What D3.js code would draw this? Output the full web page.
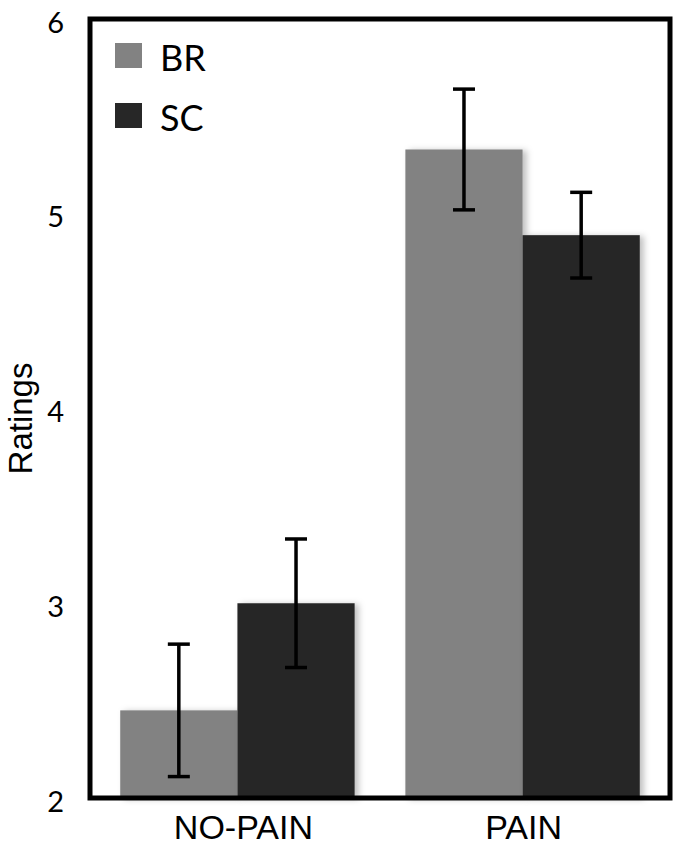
<!DOCTYPE html>
<html>
<head>
<meta charset="utf-8">
<script src="https://cdn.jsdelivr.net/npm/d3@7"></script>
<style>
  body { margin: 0; background: #fff; }
</style>
</head>
<body>
<div id="chart"></div>
<script>
// data
const groups = ["NO-PAIN", "PAIN"];
const seriesNames = ["BR", "SC"];
const brValues = [2.45, 5.33];
const brErrors = [0.34, 0.31];
const scValues = [3.0, 4.89];
const scErrors = [0.33, 0.22];
const yTicks = [2, 3, 4, 5, 6];

const colors = { BR: "#828282", SC: "#272727" };

// setup dimensions
const width = 683;
const height = 848;
const frame = { left: 90, right: 670, top: 19, bottom: 798 };

const svg = d3
  .select("#chart")
  .append("svg")
  .attr("width", width)
  .attr("height", height);

// soft shadow behind bars
const defs = svg.append("defs");
const shadow = defs
  .append("filter")
  .attr("id", "shadow")
  .attr("x", "-10%")
  .attr("y", "-10%")
  .attr("width", "130%")
  .attr("height", "130%");
shadow
  .append("feDropShadow")
  .attr("dx", 4)
  .attr("dy", 1)
  .attr("stdDeviation", 3)
  .attr("flood-color", "#000")
  .attr("flood-opacity", 0.25);

const x0 = d3
  .scaleBand()
  .domain(groups)
  .range([frame.left, frame.right])
  .paddingInner(0.178)
  .paddingOuter(0.106);

const x1 = d3
  .scaleBand()
  .domain(seriesNames)
  .range([0, x0.bandwidth()]);

const y = d3
  .scaleLinear()
  .domain([2, 6])
  .range([frame.bottom, frame.top]);

const rows = [];
groups.forEach((g, i) => {
  rows.push({ group: g, series: "BR", value: brValues[i], err: brErrors[i] });
  rows.push({ group: g, series: "SC", value: scValues[i], err: scErrors[i] });
});

// bars
const barG = svg.append("g");
barG
  .selectAll("rect.bar")
  .data(rows)
  .join("rect")
  .attr("class", "bar")
  .attr("x", (d) => x0(d.group) + x1(d.series))
  .attr("width", x1.bandwidth())
  .attr("y", (d) => y(d.value))
  .attr("height", (d) => y(2) - y(d.value))
  .attr("fill", (d) => colors[d.series])
  .attr("filter", "url(#shadow)");

// error bars
const errG = svg.append("g").attr("stroke", "#000").attr("stroke-width", 3.5);
const cx = (d) => x0(d.group) + x1(d.series) + x1.bandwidth() / 2;
const capW = 11;

errG
  .selectAll("line.stem")
  .data(rows)
  .join("line")
  .attr("class", "stem")
  .attr("x1", cx)
  .attr("x2", cx)
  .attr("y1", (d) => y(d.value + d.err))
  .attr("y2", (d) => y(d.value - d.err));

errG
  .selectAll("line.cap-top")
  .data(rows)
  .join("line")
  .attr("class", "cap-top")
  .attr("x1", (d) => cx(d) - capW)
  .attr("x2", (d) => cx(d) + capW)
  .attr("y1", (d) => y(d.value + d.err))
  .attr("y2", (d) => y(d.value + d.err));

errG
  .selectAll("line.cap-bottom")
  .data(rows)
  .join("line")
  .attr("class", "cap-bottom")
  .attr("x1", (d) => cx(d) - capW)
  .attr("x2", (d) => cx(d) + capW)
  .attr("y1", (d) => y(d.value - d.err))
  .attr("y2", (d) => y(d.value - d.err));

// frame
svg
  .append("rect")
  .attr("x", frame.left)
  .attr("y", frame.top)
  .attr("width", frame.right - frame.left)
  .attr("height", frame.bottom - frame.top)
  .attr("fill", "none")
  .attr("stroke", "#000")
  .attr("stroke-width", 5);

// y axis labels
const yAxisG = svg
  .append("g")
  .attr("transform", `translate(${frame.left - 4},0)`)
  .call(d3.axisLeft(y).tickValues(yTicks).tickSize(0).tickPadding(22).tickFormat(d3.format("d")));
yAxisG.select(".domain").remove();
yAxisG
  .selectAll("text")
  .attr("fill", "#000")
  .attr("dy", "0.45em")
  .style("font-family", "Lato, 'Open Sans', sans-serif")
  .style("font-size", "29px");

svg
  .append("text")
  .attr("transform", `translate(32,${(frame.top + frame.bottom) / 2 + 10}) rotate(-90)`)
  .attr("text-anchor", "middle")
  .style("font-family", "'Liberation Sans', Arial, sans-serif")
  .style("font-size", "33px")
  .text("Ratings");

// x axis labels
const xAxisG = svg
  .append("g")
  .attr("transform", `translate(0,${frame.bottom})`)
  .call(d3.axisBottom(x0).tickSize(0).tickPadding(17));
xAxisG.select(".domain").remove();
xAxisG
  .selectAll("text")
  .attr("fill", "#000")
  .attr("dy", "0.72em")
  .attr("dx", (d, i) => (i === 0 ? 6 : 1))
  .style("font-family", "'Liberation Sans', Arial, sans-serif")
  .style("font-size", "34px");

// legend
const legend = svg
  .append("g")
  .attr("transform", "translate(115,43)")
  .selectAll("g")
  .data(seriesNames)
  .join("g")
  .attr("transform", (d, i) => `translate(0,${i * 60})`);

legend
  .append("rect")
  .attr("width", 27)
  .attr("height", 25)
  .attr("fill", (d) => colors[d]);

legend
  .append("text")
  .attr("x", 45)
  .attr("y", 28)
  .style("font-family", "Lato, 'Open Sans', sans-serif")
  .style("font-size", "36px")
  .text((d) => d);
</script>
</body>
</html>
